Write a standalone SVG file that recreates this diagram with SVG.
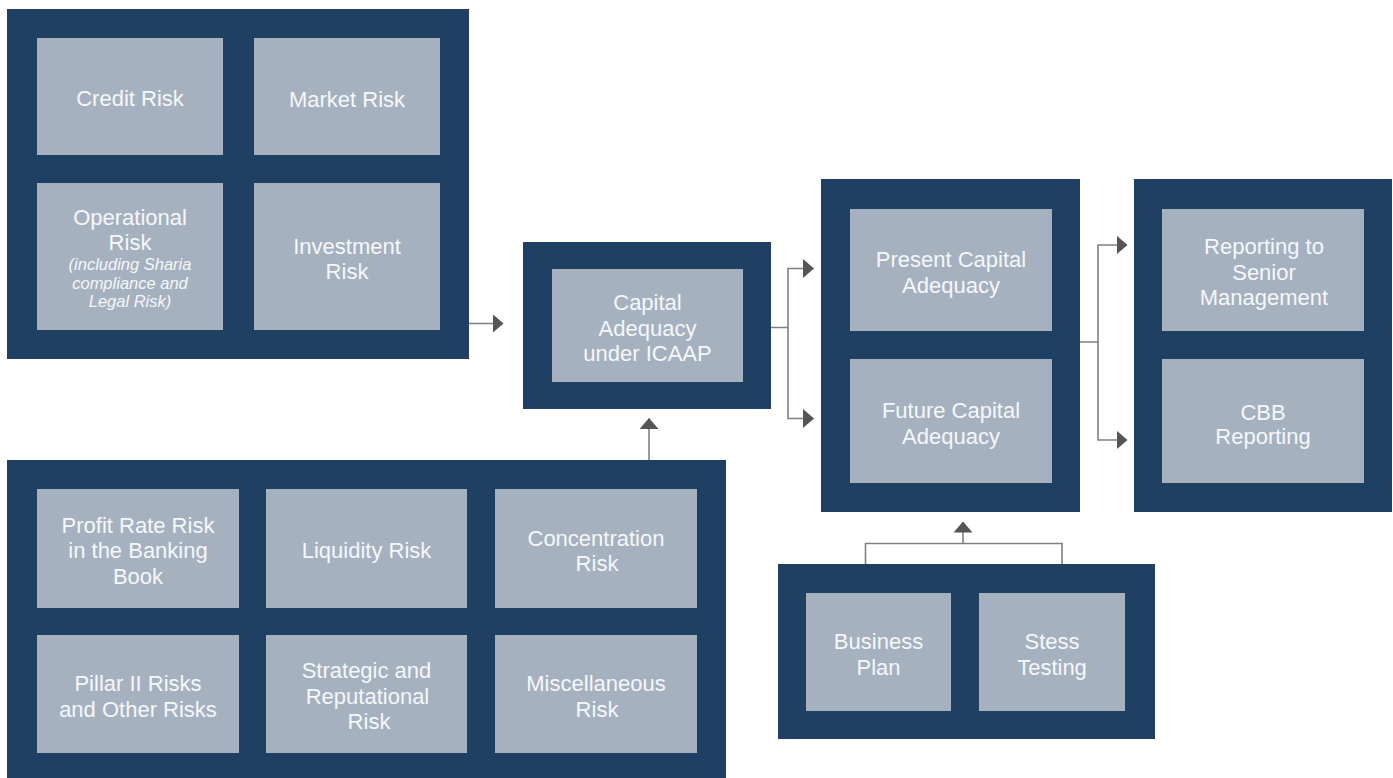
<svg xmlns="http://www.w3.org/2000/svg" width="1393" height="778" viewBox="0 0 1393 778">
<defs>
<style>
.outer{fill:#1F4062;}
.inner{fill:#A5B1BF;}
.t{font-family:"Liberation Sans",Arial,Helvetica,sans-serif;font-size:22px;fill:#F5F7FA;text-anchor:middle;}
.ti{font-family:"Liberation Sans",Arial,Helvetica,sans-serif;font-size:16.5px;font-style:italic;fill:#F5F7FA;text-anchor:middle;}
.c{fill:none;stroke:#808080;stroke-width:1.6;marker-end:url(#ah);}
.cn{fill:none;stroke:#808080;stroke-width:1.6;}
</style>
<marker id="ah" viewBox="0 0 11 19" refX="10.5" refY="9.5" markerWidth="11" markerHeight="19" markerUnits="userSpaceOnUse" orient="auto">
<path d="M0,0 L11,9.5 L0,19 Z" fill="#555555"/>
</marker>
</defs>
<rect width="1393" height="778" fill="#FFFFFF"/>

<g id="connectors">
<path class="c" d="M469,323.5 H503"/>
<path class="c" d="M771,327.5 H788 V268.5 H813.5"/>
<path class="c" d="M788,327.5 V418.5 H813.5"/>
<path class="c" d="M649,460 V418.5"/>
<path class="c" d="M1080,342 H1098 V245 H1127"/>
<path class="c" d="M1098,342 V440 H1127"/>
<path class="cn" d="M865.5,564 V543.5 H1062 V564"/>
<path class="c" d="M963,543.5 V522"/>
</g>

<g id="primary-risks">
<rect class="outer" x="7" y="9" width="462" height="350"/>
<g id="credit-risk">
<rect class="inner" x="37" y="38" width="186" height="117"/>
<text class="t" x="130" y="106">Credit Risk</text>
</g>
<g id="market-risk">
<rect class="inner" x="254" y="38" width="186" height="117"/>
<text class="t" x="347" y="107">Market Risk</text>
</g>
<g id="operational-risk">
<rect class="inner" x="37" y="183" width="186" height="147"/>
<text class="t" x="130" y="225">Operational</text>
<text class="t" x="130" y="249.5">Risk</text>
<text class="ti" x="130" y="270">(including Sharia</text>
<text class="ti" x="130" y="288.5">compliance and</text>
<text class="ti" x="130" y="307">Legal Risk)</text>
</g>
<g id="investment-risk">
<rect class="inner" x="254" y="183" width="186" height="147"/>
<text class="t" x="347" y="254">Investment</text>
<text class="t" x="347" y="278.5">Risk</text>
</g>
</g>

<g id="icaap">
<rect class="outer" x="523" y="242" width="248" height="167"/>
<rect class="inner" x="552" y="269" width="191" height="113"/>
<text class="t" x="647.5" y="310">Capital</text>
<text class="t" x="647.5" y="336">Adequacy</text>
<text class="t" x="647.5" y="361">under ICAAP</text>
</g>

<g id="capital-adequacy">
<rect class="outer" x="821" y="179" width="259" height="333"/>
<g id="present-capital">
<rect class="inner" x="850" y="209" width="202" height="122"/>
<text class="t" x="951" y="267">Present Capital</text>
<text class="t" x="951" y="293">Adequacy</text>
</g>
<g id="future-capital">
<rect class="inner" x="850" y="359" width="202" height="124"/>
<text class="t" x="951" y="418">Future Capital</text>
<text class="t" x="951" y="443.5">Adequacy</text>
</g>
</g>

<g id="reporting">
<rect class="outer" x="1134" y="179" width="258" height="333"/>
<g id="senior-management">
<rect class="inner" x="1162" y="209" width="202" height="122"/>
<text class="t" x="1264" y="253.5">Reporting to</text>
<text class="t" x="1264" y="279.5">Senior</text>
<text class="t" x="1264" y="304.5">Management</text>
</g>
<g id="cbb-reporting">
<rect class="inner" x="1162" y="359" width="202" height="124"/>
<text class="t" x="1263" y="419.5">CBB</text>
<text class="t" x="1263" y="444">Reporting</text>
</g>
</g>

<g id="planning">
<rect class="outer" x="778" y="564" width="377" height="175"/>
<g id="business-plan">
<rect class="inner" x="806" y="593" width="145" height="118"/>
<text class="t" x="878.5" y="648.5">Business</text>
<text class="t" x="878.5" y="675">Plan</text>
</g>
<g id="stress-testing">
<rect class="inner" x="979" y="593" width="146" height="118"/>
<text class="t" x="1052" y="648.5">Stess</text>
<text class="t" x="1052" y="675">Testing</text>
</g>
</g>

<g id="other-risks">
<rect class="outer" x="7" y="460" width="719" height="318"/>
<g id="profit-rate-risk">
<rect class="inner" x="37" y="489" width="202" height="119"/>
<text class="t" x="138" y="533">Profit Rate Risk</text>
<text class="t" x="138" y="558">in the Banking</text>
<text class="t" x="138" y="583.5">Book</text>
</g>
<g id="liquidity-risk">
<rect class="inner" x="266" y="489" width="201" height="119"/>
<text class="t" x="366.5" y="558">Liquidity Risk</text>
</g>
<g id="concentration-risk">
<rect class="inner" x="495" y="489" width="202" height="119"/>
<text class="t" x="596" y="546">Concentration</text>
<text class="t" x="597" y="571">Risk</text>
</g>
<g id="pillar-ii-risks">
<rect class="inner" x="37" y="635" width="202" height="118"/>
<text class="t" x="138" y="691">Pillar II Risks</text>
<text class="t" x="138" y="717">and Other Risks</text>
</g>
<g id="strategic-risk">
<rect class="inner" x="266" y="635" width="201" height="118"/>
<text class="t" x="366.5" y="678">Strategic and</text>
<text class="t" x="367.5" y="703.5">Reputational</text>
<text class="t" x="369" y="729">Risk</text>
</g>
<g id="miscellaneous-risk">
<rect class="inner" x="495" y="635" width="202" height="118"/>
<text class="t" x="596" y="691">Miscellaneous</text>
<text class="t" x="597" y="717">Risk</text>
</g>
</g>
</svg>
